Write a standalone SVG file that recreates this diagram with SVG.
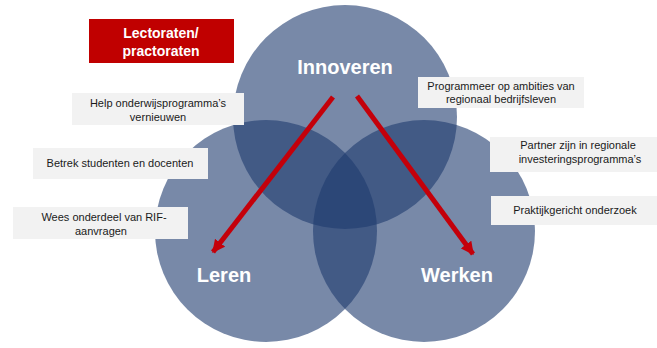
<svg xmlns="http://www.w3.org/2000/svg" width="657" height="348" viewBox="0 0 657 348">
<style>
.c{fill:#1e3a6e;fill-opacity:0.6}
.box{fill:#f2f2f2}
.t{font-family:"Liberation Sans",Arial,sans-serif;font-size:11px;fill:#1a1a1a;text-anchor:middle}
.big{font-family:"Liberation Sans",Arial,sans-serif;font-size:20px;font-weight:bold;fill:#ffffff;text-anchor:middle}
.red{font-family:"Liberation Sans",Arial,sans-serif;font-size:14px;font-weight:bold;fill:#ffffff;text-anchor:middle}
.arr{stroke:#c4000a;stroke-width:5;fill:none;marker-end:url(#ah)}
</style>
<defs>
<marker id="ah" viewBox="0 0 10 10" refX="9" refY="5" markerWidth="2.6" markerHeight="2.6" orient="auto" markerUnits="strokeWidth">
<path d="M0,0 L10,5 L0,10 z" fill="#c4000a"/>
</marker>
</defs>
<rect width="657" height="348" fill="#ffffff"/>
<g id="circle-innoveren"><circle class="c" cx="345" cy="117" r="112"/></g>
<g id="circle-leren"><circle class="c" cx="266" cy="231" r="111"/></g>
<g id="circle-werken"><circle class="c" cx="424" cy="231" r="111"/></g>
<g id="labels">
<text class="big" x="345" y="74">Innoveren</text>
<text class="big" x="224" y="282">Leren</text>
<text class="big" x="457" y="282">Werken</text>
</g>
<g id="connectors">
<line class="arr" x1="333" y1="97" x2="213" y2="252"/>
<line class="arr" x1="357" y1="96" x2="473" y2="254"/>
</g>
<g id="lectoraten">
<rect x="89" y="19" width="145" height="44" fill="#c00000"/>
<text class="red" x="161" y="38">Lectoraten/</text>
<text class="red" x="161" y="56">practoraten</text>
</g>
<g id="help">
<rect class="box" x="72" y="93" width="172" height="32"/>
<text class="t" x="158" y="107">Help onderwijsprogramma’s</text>
<text class="t" x="158" y="121">vernieuwen</text>
</g>
<g id="betrek">
<rect class="box" x="33" y="148" width="175" height="31"/>
<text class="t" x="120" y="167">Betrek studenten en docenten</text>
</g>
<g id="wees">
<rect class="box" x="13" y="207" width="175" height="32"/>
<text class="t" x="104" y="221">Wees onderdeel van RIF-</text>
<text class="t" x="101" y="235">aanvragen</text>
</g>
<g id="programmeer">
<rect class="box" x="418" y="77" width="166" height="31"/>
<text class="t" x="501" y="90">Programmeer op ambities van</text>
<text class="t" x="501" y="103">regionaal bedrijfsleven</text>
</g>
<g id="partner">
<rect class="box" x="490" y="137" width="167" height="35"/>
<text class="t" x="578" y="149">Partner zijn in regionale</text>
<text class="t" x="580" y="163">investeringsprogramma’s</text>
</g>
<g id="praktijk">
<rect class="box" x="491" y="196" width="166" height="29"/>
<text class="t" x="575" y="214">Praktijkgericht onderzoek</text>
</g>
</svg>
